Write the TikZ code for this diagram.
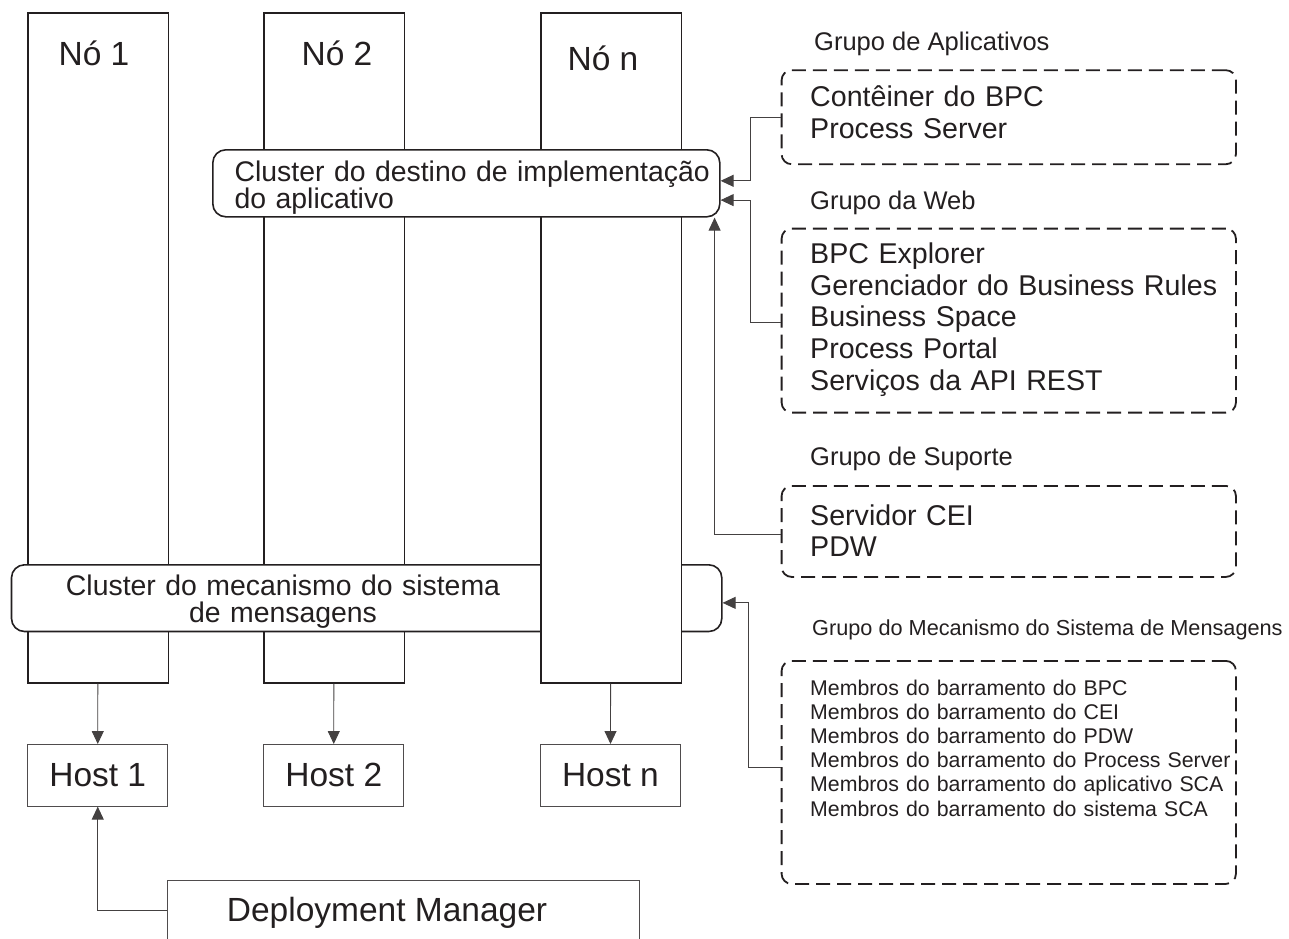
\documentclass[tikz,border=0pt]{standalone}
\usepackage{fontspec}
\setmainfont{Liberation Sans}
\usepackage{tikz}
\usetikzlibrary{arrows.meta,positioning}
\definecolor{ink}{RGB}{35,31,32}
\lineskiplimit=-100pt
\newcommand{\colfont}{\fontsize{33.5}{36}\selectfont}
\newcommand{\clusterfont}{\fontsize{28.4}{27}\selectfont}
\newcommand{\groupfont}{\fontsize{28.6}{31.8}\selectfont}
\newcommand{\titlefont}{\fontsize{25.5}{28}\selectfont}
\newcommand{\smalltitlefont}{\fontsize{21.7}{24}\selectfont}
\newcommand{\memberfont}{\fontsize{21.3}{24.2}\selectfont}
\tikzstyle{nodecol} = [rectangle, draw=ink, line width=1.5pt, fill=white, minimum width=140.5pt, minimum height=670pt, anchor=north west, inner sep=0pt]
\tikzstyle{arrow} = [draw=ink!85, line width=0.9pt, -{Triangle[length=13pt,width=12pt]}]
\tikzset{
  cluster/.style={draw=ink, line width=1.6pt, fill=white, rounded corners=13pt, anchor=north west, inner sep=0pt},
  group/.style={draw=ink, line width=1.8pt, dash pattern=on 14pt off 7pt, rounded corners=10pt, anchor=north west, inner sep=0pt, minimum width=454.3pt},
  host/.style={draw=ink!80, line width=0.9pt, minimum width=140pt, minimum height=61.7pt, anchor=north west, inner sep=0pt, text=ink, font=\colfont},
  coltext/.style={anchor=base, inner sep=0pt, text=ink, font=\colfont},
  bodytext/.style={anchor=base west, inner sep=0pt, text=ink, align=left, text width=700pt},
  grouptitle/.style={anchor=base west, inner sep=0pt, text=ink, font=\titlefont}
}
\begin{document}
\begin{tikzpicture}[x=1pt, y=-1pt]
    \clip (0,0) rectangle (1289,938);
    % nodes
    \node (No1)   [nodecol] at (27,12) {};
    \node (No2)   [nodecol] at (263,12) {};
    \node (MsgCl) [cluster, minimum width=710.3pt, minimum height=66.7pt] at (10.7,564) {};
    \node (NoN)   [nodecol] at (540,12) {};
    \node (AppCl) [cluster, minimum width=507pt, minimum height=67pt] at (212,149) {};
    \node (lNo1)  [coltext] at (94,65.7) {Nó 1};
    \node (lNo2)  [coltext] at (337,65) {Nó 2};
    \node (lNoN)  [coltext] at (603,70) {Nó n};
    \node (lAppCl) [bodytext, font=\clusterfont] at (234.4,181.7) {Cluster do destino de implementação\\do aplicativo};
    \node (lMsgCl) [bodytext, align=center, anchor=base, font=\clusterfont] at (283,595) {Cluster do mecanismo do sistema\\de mensagens};
    \node (H1) [host] at (27.3,744) {Host 1};
    \node (H2) [host] at (263.3,744) {Host 2};
    \node (HN) [host] at (540,744) {Host n};
    \node (DM) [draw=ink!80, line width=0.9pt, minimum width=471.8pt, minimum height=100pt, anchor=north west, inner sep=0pt] at (166.7,880) {};
    \node (lDM) [anchor=base west, inner sep=0pt, text=ink, font=\colfont] at (226.7,921.7) {Deployment Manager};
    % groups
    \node (tApp)    [grouptitle] at (814,50) {Grupo de Aplicativos};
    \node (AppGrp)  [group, minimum height=94pt] at (780.7,69.3) {};
    \node (lAppGrp) [bodytext, font=\groupfont] at (810,106.7) {Contêiner do BPC\\Process Server};
    \node (tWeb)    [grouptitle] at (810,209) {Grupo da Web};
    \node (WebGrp)  [group, minimum height=184pt] at (780.7,227.7) {};
    \node (lWebGrp) [bodytext, font=\groupfont] at (810,263.3) {BPC Explorer\\Gerenciador do Business Rules\\Business Space\\Process Portal\\Serviços da API REST};
    \node (tSup)    [grouptitle] at (810,465) {Grupo de Suporte};
    \node (SupGrp)  [group, minimum height=91pt] at (780.7,485) {};
    \node (lSupGrp) [bodytext, font=\groupfont] at (810,525) {Servidor CEI\\PDW};
    \node (tMsg)    [grouptitle, font=\smalltitlefont] at (812,635) {Grupo do Mecanismo do Sistema de Mensagens};
    \node (MsgGrp)  [group, minimum height=223pt] at (780.7,660) {};
    \node (lMsgGrp) [bodytext, font=\memberfont] at (810,695) {Membros do barramento do BPC\\Membros do barramento do CEI\\Membros do barramento do PDW\\Membros do barramento do Process Server\\Membros do barramento do aplicativo SCA\\Membros do barramento do sistema SCA};
    % arrows
    \draw [arrow] (No1) -- (H1);
    \draw [arrow] (No2) -- (H2);
    \draw [arrow] (NoN) -- (HN);
    \draw [arrow] ([yshift=-30pt]DM.north west) -| (H1);
    \draw [arrow] (AppGrp.west) -- ++(-30.7,0) |- ([yshift=2.5pt]AppCl.east);
    \draw [arrow] ([yshift=-2pt]WebGrp.west) -- ++(-30.7,0) |- ([yshift=-16.8pt]AppCl.east);
    \draw [arrow] ([yshift=-3pt]SupGrp.west) -| ([xshift=-6pt]AppCl.south east);
    \draw [arrow] ([yshift=4.8pt]MsgGrp.west) -- ++(-32.4,0) |- ([yshift=-4.7pt]MsgCl.east);
\end{tikzpicture}
\end{document}
